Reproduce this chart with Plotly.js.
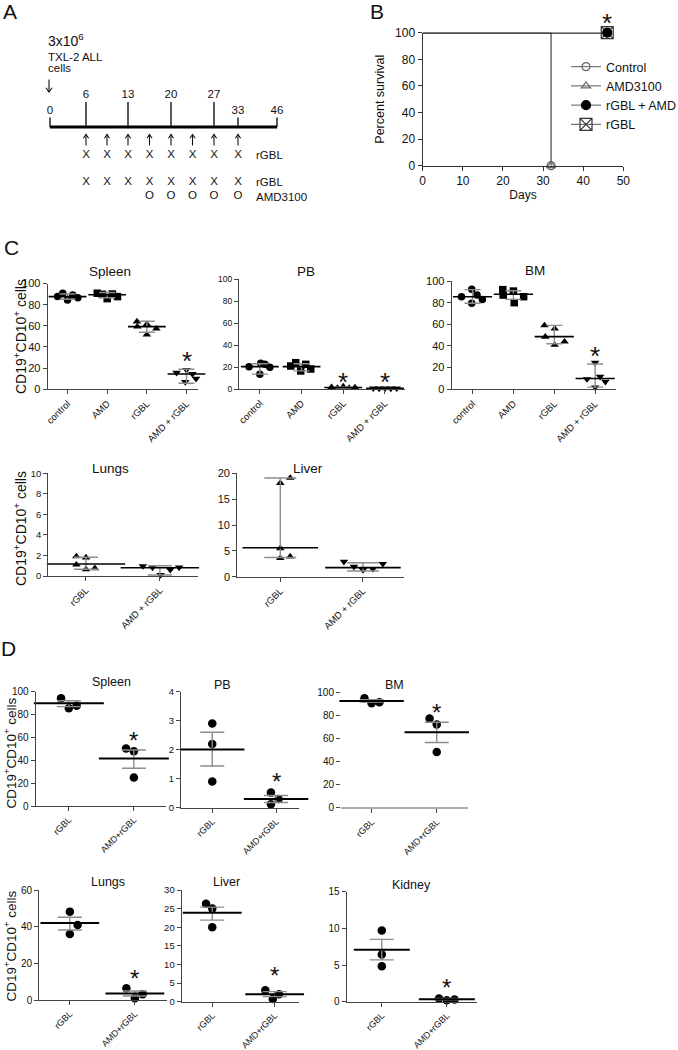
<!DOCTYPE html>
<html><head><meta charset="utf-8">
<script src="https://cdn.plot.ly/plotly-3.0.1.min.js"></script>
<style>html,body{margin:0;padding:0;background:#fff;} #chart{width:678px;height:1050px;}</style>
</head><body><div id="chart"></div>
<script>
// ================= DATA =================
// Panel A: treatment schedule (days)
const timelineDays = [0, 6, 13, 20, 27, 33, 46];
const injectionDay = 0;
const rgblDoseDays = [6, 9.5, 13, 16.5, 20, 23.5, 27, 33];
const amdDoseDays = [16.5, 20, 23.5, 27, 33];

// Panel B: Kaplan-Meier survival
const survLegend = ['Control', 'AMD3100', 'rGBL + AMD', 'rGBL'];
const controlDays = [0, 32, 32];
const controlSurv = [100, 100, 0];
const amd3100Days = [0, 32, 32];
const amd3100Surv = [100, 100, 0];
const comboDays = [0, 46];
const comboSurv = [100, 100];
const rgblDays = [0, 46];
const rgblSurv = [100, 100];

// Panel C: % CD19+CD10+ cells, 5 mice per group (median and range lines)
const cGroups4 = ['control', 'AMD', 'rGBL', 'AMD + rGBL'];
const cGroups2 = ['rGBL', 'AMD + rGBL'];
const cSpleenPts = [[87.6, 90.8, 84.4, 89.1, 86.6], [90.8, 89.8, 85.7, 90.1, 87.6], [64.0, 59.2, 61.5, 57.3, 51.6], [15.7, 18.3, 14.5, 10.0, 6.9]];
const cSpleenMid = [87.6, 89.3, 59.2, 14.5];
const cSpleenLo = [85.1, 86.5, 53.9, 5.7];
const cSpleenHi = [90.1, 91.5, 64.3, 18.9];
const cPbPts = [[20.3, 13.3, 23.3, 22.4, 19.7], [20.9, 23.9, 16.4, 22.4, 18.2], [1.6, 1.0, 2.2, 0.9, 1.4], [0.6, 0.5, 0.6, 0.5, 0.6]];
const cPbMid = [20.3, 20.3, 1.3, 0.6];
const cPbLo = [13.5, 16.5, 0.9, 0.5];
const cPbHi = [23.0, 23.0, 1.8, 0.6];
const cBmPts = [[85.5, 92.3, 79.4, 87.0, 83.0], [92.0, 87.0, 90.7, 80.0, 85.5], [59.0, 56.0, 48.5, 41.0, 44.0], [24.6, 9.5, 11.6, 7.0, 1.8]];
const cBmMid = [85.5, 87.7, 48.6, 10.0];
const cBmLo = [79.5, 83.0, 42.0, 2.0];
const cBmHi = [92.0, 91.0, 59.0, 23.4];
const cLungsPts = [[1.9, 1.8, 1.1, 0.65, 0.75], [0.97, 0.83, 0.1, 0.6, 0.83]];
const cLungsMid = [1.17, 0.8];
const cLungsLo = [0.65, 0.1];
const cLungsHi = [1.83, 1.0];
const cLiverPts = [[18.1, 19.1, 5.5, 3.6, 3.9], [2.9, 1.94, 1.3, 1.5, 2.5]];
const cLiverMid = [5.6, 1.75];
const cLiverLo = [3.7, 1.1];
const cLiverHi = [19.1, 2.7];

// Panel D: % CD19+CD10+ cells, 3 mice per group (mean +/- SEM)
const dGroups = ['rGBL', 'AMD+rGBL'];
const dSpleenPts = [[94.2, 85.5, 87.8], [50.4, 48.0, 25.0]];
const dSpleenMid = [89.9, 41.6];
const dSpleenLo = [86.9, 33.0];
const dSpleenHi = [92.1, 49.0];
const dPbPts = [[2.9, 2.2, 0.9], [0.52, 0.3, 0.12]];
const dPbMid = [2.01, 0.3];
const dPbLo = [1.44, 0.18];
const dPbHi = [2.6, 0.42];
const dBmPts = [[95.2, 90.8, 91.7], [77.4, 72.2, 48.3]];
const dBmMid = [92.8, 65.5];
const dBmLo = [91.8, 56.5];
const dBmHi = [93.9, 74.2];
const dLungsPts = [[48.2, 40.9, 36.0], [6.4, 3.1, 0.9]];
const dLungsMid = [42.0, 3.6];
const dLungsLo = [38.2, 2.2];
const dLungsHi = [45.1, 4.9];
const dLiverPts = [[26.3, 25.0, 20.0], [3.1, 2.0, 0.7]];
const dLiverMid = [23.9, 2.0];
const dLiverLo = [21.9, 1.35];
const dLiverHi = [25.4, 2.7];
const dKidneyPts = [[9.7, 6.45, 4.85], [0.45, 0.2, 0.3]];
const dKidneyMid = [7.1, 0.35];
const dKidneyLo = [5.7, 0.25];
const dKidneyHi = [8.5, 0.45];

// ================= LAYOUT / STYLE =================
const W = 678, H = 1050;
const SANS = 'Liberation Sans, Arial, Helvetica, sans-serif';
const NARROW = 'Liberation Sans Narrow, Arial Narrow, Liberation Sans, Arial, sans-serif';
const xp = v => v / W;
const yp = v => 1 - v / H;

const traces = [];
const annotations = [];
const layout = {
  width: W, height: H,
  margin: {l: 0, r: 0, t: 0, b: 0, pad: 0, autoexpand: false},
  paper_bgcolor: '#fff', plot_bgcolor: 'rgba(0,0,0,0)',
  font: {family: SANS, color: '#111'},
  showlegend: true,
  annotations: annotations
};

let axCount = 0;
function newAxes(box, xa, ya) {
  axCount++;
  const s = axCount === 1 ? '' : String(axCount);
  layout['xaxis' + s] = Object.assign({domain: [xp(box.l), xp(box.r)], anchor: 'y' + s, fixedrange: true, showgrid: false, zeroline: false}, xa);
  layout['yaxis' + s] = Object.assign({domain: [yp(box.b), yp(box.t)], anchor: 'x' + s, fixedrange: true, showgrid: false, zeroline: false}, ya);
  return {x: 'x' + s, y: 'y' + s};
}
function label(x, y, text, size, opts) {
  annotations.push(Object.assign({xref: 'paper', yref: 'paper', x: xp(x), y: yp(y), text: text, showarrow: false,
    font: {family: SANS, size: size, color: '#111'}, xanchor: 'center', yanchor: 'middle'}, opts || {}));
}

// ---------- Panel A: schematic timeline ----------
const timelineAnchorPx = [50, 86, 128, 171, 214, 238, 277]; // schematic placement of timelineDays
const tallTickDays = [6, 13, 20, 27];
function schem(d) {
  for (let i = 1; i < timelineDays.length; i++) {
    if (d <= timelineDays[i]) {
      const a = timelineDays[i - 1], b = timelineDays[i];
      return timelineAnchorPx[i - 1] + (d - a) / (b - a) * (timelineAnchorPx[i] - timelineAnchorPx[i - 1]);
    }
  }
  return timelineAnchorPx[timelineAnchorPx.length - 1];
}
const axA = newAxes({l: 0, r: 340, t: 0, b: 200}, {range: [0, 340], visible: false}, {range: [200, 0], visible: false});
const lineY = 127;
traces.push({type: 'scatter', mode: 'lines', xaxis: axA.x, yaxis: axA.y, showlegend: false, hoverinfo: 'skip',
  x: [schem(timelineDays[0]), schem(timelineDays[timelineDays.length - 1])], y: [lineY, lineY],
  line: {color: '#000', width: 3}});
const tx = [], ty = [];
timelineDays.forEach(d => {
  const top = tallTickDays.includes(d) ? 102 : 117.5;
  tx.push(schem(d), schem(d), null); ty.push(top, lineY, null);
});
traces.push({type: 'scatter', mode: 'lines', xaxis: axA.x, yaxis: axA.y, showlegend: false, hoverinfo: 'skip',
  x: tx, y: ty, line: {color: '#000', width: 1.3}});
// arrows: up arrows for each rGBL dose, down arrow for the cell injection
const arX = [], arY = [];
rgblDoseDays.forEach(d => {
  const x = schem(d);
  arX.push(x, x, null, x - 2.6, x, x + 2.6, null);
  arY.push(145.5, 134.5, null, 138.3, 134.5, 138.3, null);
});
{
  const x = schem(injectionDay) - 1;
  arX.push(x, x, null, x - 3, x, x + 3, null);
  arY.push(79.5, 92, null, 87.8, 92, 87.8, null);
}
traces.push({type: 'scatter', mode: 'lines', xaxis: axA.x, yaxis: axA.y, showlegend: false, hoverinfo: 'skip', cliponaxis: false,
  x: arX, y: arY, line: {color: '#111', width: 1.1}});
traces.push({type: 'scatter', mode: 'text', xaxis: axA.x, yaxis: axA.y, showlegend: false, cliponaxis: false, hoverinfo: 'skip',
  x: timelineDays.map(schem), y: timelineDays.map(d => tallTickDays.includes(d) ? 95.5 : 111.5),
  text: timelineDays.map(String), textfont: {family: SANS, size: 11.5, color: '#111'}});
traces.push({type: 'scatter', mode: 'text', xaxis: axA.x, yaxis: axA.y, showlegend: false, cliponaxis: false, hoverinfo: 'skip',
  x: rgblDoseDays.map(schem), y: rgblDoseDays.map(() => 155), text: rgblDoseDays.map(() => 'X'),
  textfont: {family: SANS, size: 11.5, color: '#111'}});
traces.push({type: 'scatter', mode: 'text', xaxis: axA.x, yaxis: axA.y, showlegend: false, cliponaxis: false, hoverinfo: 'skip',
  x: rgblDoseDays.map(schem), y: rgblDoseDays.map(() => 182), text: rgblDoseDays.map(() => 'X'),
  textfont: {family: SANS, size: 11.5, color: '#111'}});
traces.push({type: 'scatter', mode: 'text', xaxis: axA.x, yaxis: axA.y, showlegend: false, cliponaxis: false, hoverinfo: 'skip',
  x: amdDoseDays.map(schem), y: amdDoseDays.map(() => 196.5), text: amdDoseDays.map(() => 'O'),
  textfont: {family: SANS, size: 11.5, color: '#111'}});
label(46, 40, '3x10<sup>6</sup>', 14, {xanchor: 'left'});
label(46, 57, 'TXL-2 ALL', 11.5, {xanchor: 'left'});
label(46, 68.5, 'cells', 11.5, {xanchor: 'left'});
label(254, 155, 'rGBL', 11.5, {xanchor: 'left'});
label(254, 182, 'rGBL', 11.5, {xanchor: 'left'});
label(254, 196.5, 'AMD3100', 11.5, {xanchor: 'left'});

// Panel letters
label(10, 11, 'A', 21);
label(377, 11, 'B', 21);
label(11, 248, 'C', 21);
label(8, 648, 'D', 21);

// ---------- Panel B: survival ----------
const axB = newAxes({l: 422.7, r: 623.3, t: 32.7, b: 165.7},
  {range: [0, 50], dtick: 10, tick0: 0, showline: true, linecolor: '#333', linewidth: 1.2, ticks: 'outside', ticklen: 4, tickcolor: '#333',
   tickfont: {family: SANS, size: 12, color: '#111'}, title: {text: 'Days', font: {family: SANS, size: 12, color: '#111'}, standoff: 2}},
  {range: [0, 100], dtick: 20, tick0: 0, showline: true, linecolor: '#333', linewidth: 1.2, ticks: 'outside', ticklen: 4, tickcolor: '#333',
   tickfont: {family: SANS, size: 12, color: '#111'}, title: {text: 'Percent survival', font: {family: SANS, size: 12.5, color: '#111'}, standoff: 7}});
const kmSets = [
  {d: controlDays, s: controlSurv, sym: 'circle-open', col: '#666', size: 8, lc: '#777', lw: 1.2},
  {d: amd3100Days, s: amd3100Surv, sym: 'triangle-up-open', col: '#666', size: 8, lc: '#777', lw: 1.2},
  {d: comboDays, s: comboSurv, sym: 'circle', col: '#000', size: 9, lc: '#222', lw: 1.5},
  {d: rgblDays, s: rgblSurv, sym: 'square-x-open', col: '#333', size: 12, lc: '#222', lw: 1.5}
];
kmSets.forEach((k, i) => {
  traces.push({type: 'scatter', mode: 'lines', xaxis: axB.x, yaxis: axB.y, showlegend: false, cliponaxis: false,
    x: k.d, y: k.s, line: {color: k.lc, width: k.lw}, name: survLegend[i], hoverinfo: 'x+y+name'});
});
[3, 2, 0, 1].forEach(i => {
  const k = kmSets[i];
  const n = k.d.length - 1;
  traces.push({type: 'scatter', mode: 'lines+markers', xaxis: axB.x, yaxis: axB.y, cliponaxis: false, legendrank: i + 1,
    name: survLegend[i], x: [k.d[n]], y: [k.s[n]], line: {color: '#777', width: 1.2},
    marker: {symbol: k.sym, size: k.size, color: k.col, line: {color: k.col, width: 1.2}}});
});
annotations.push({xref: axB.x, yref: axB.y, x: comboDays[comboDays.length - 1], y: 100, text: '*', showarrow: false, yshift: 10,
  font: {family: SANS, size: 26, color: '#111'}});
layout.legend = {x: xp(566), y: yp(52), xanchor: 'left', yanchor: 'top', bgcolor: 'rgba(0,0,0,0)',
  font: {family: SANS, size: 12.5, color: '#111'}, itemwidth: 30, tracegroupgap: 0, traceorder: 'normal'};

// ---------- Dot-plot panels ----------
function dotPanel(p) {
  const ax = newAxes(p.box,
    {range: p.xr, tickvals: p.cats.map((_, i) => i), ticktext: p.cats, tickangle: -45,
     showline: true, linecolor: p.xlc || '#444', linewidth: p.xlw || 1.1, ticks: 'outside', ticklen: 4, tickcolor: '#444',
     tickfont: {family: p.xf, size: p.xfs, color: '#111'}},
    {range: p.yr, dtick: p.dtick, tick0: 0, showline: p.yline !== false, linecolor: '#444', linewidth: 1.1,
     ticks: 'outside', ticklen: 4, tickcolor: '#444', tickfont: {family: p.yf, size: p.yfs, color: '#111'}});
  p.pts.forEach((vals, g) => {
    traces.push({type: 'scatter', mode: 'markers', xaxis: ax.x, yaxis: ax.y, showlegend: false, cliponaxis: false,
      name: p.name + ' ' + p.cats[g], x: vals.map((_, k) => g + p.offs[g][k]), y: vals,
      marker: {symbol: p.sym[g], size: p.ms, color: '#000', line: {width: 0}}});
  });
  traces.push({type: 'scatter', mode: 'markers', xaxis: ax.x, yaxis: ax.y, showlegend: false, cliponaxis: false,
    name: p.name, x: p.cats.map((_, i) => i), y: p.mid,
    marker: {symbol: 'line-ew', size: p.len, color: '#000', line: {width: p.lw, color: '#000'}},
    error_y: {type: 'data', symmetric: false, array: p.hi.map((h, i) => h - p.mid[i]), arrayminus: p.mid.map((m, i) => m - p.lo[i]),
      color: '#8c8c8c', thickness: 1.4, width: p.cap}});
  (p.stars || []).forEach(s => annotations.push({xref: ax.x, yref: ax.y, x: s[0], y: s[1], text: '*', showarrow: false,
    yshift: -0.22 * p.starSize, font: {family: SANS, size: p.starSize, color: '#111'}}));
  label(p.title[0], p.title[1], p.name, p.tfs, {font: {family: p.tf, size: p.tfs, color: '#111'}});
}

const cSym4 = ['circle', 'square', 'triangle-up', 'triangle-down'];
const cSym2 = ['triangle-up', 'triangle-down'];
const dSym = ['circle', 'circle'];

dotPanel({name: 'Spleen', box: {l: 47.7, r: 198, t: 283.5, b: 389.3}, xr: [-0.5, 3.29], yr: [0, 100], dtick: 20,
  cats: cGroups4, pts: cSpleenPts, mid: cSpleenMid, lo: cSpleenLo, hi: cSpleenHi, sym: cSym4, ms: 7.5,
  offs: [[-0.25, -0.12, 0, 0.13, 0.26], [-0.25, -0.12, 0, 0.13, 0.26], [-0.25, -0.24, 0, 0.24, 0], [-0.25, 0, 0.15, 0.24, -0.03]],
  len: 27, lw: 1.6, cap: 8, stars: [[3, 32]], starSize: 26,
  xf: SANS, xfs: 9.5, yf: SANS, yfs: 11, title: [110, 271.5], tf: SANS, tfs: 13.5});
dotPanel({name: 'PB', box: {l: 239, r: 405, t: 279, b: 389}, xr: [-0.5, 3.48], yr: [0, 100], dtick: 20,
  cats: cGroups4, pts: cPbPts, mid: cPbMid, lo: cPbLo, hi: cPbHi, sym: cSym4, ms: 7.5,
  offs: [[-0.26, 0, 0.02, 0.12, 0.24], [-0.26, -0.14, -0.02, 0.1, 0.22], [-0.28, -0.14, 0, 0.14, 0.28], [-0.28, -0.14, 0, 0.14, 0.28]],
  len: 27, lw: 1.6, cap: 8, stars: [[2, 11.8], [3, 11.8]], starSize: 26,
  xf: SANS, xfs: 9.5, yf: SANS, yfs: 8.5, title: [306, 271], tf: SANS, tfs: 13.5});
dotPanel({name: 'BM', box: {l: 451.7, r: 616, t: 281, b: 389.3}, xr: [-0.51, 3.51], yr: [0, 100], dtick: 20,
  cats: cGroups4, pts: cBmPts, mid: cBmMid, lo: cBmLo, hi: cBmHi, sym: cSym4, ms: 7.5,
  offs: [[-0.27, -0.02, -0.02, 0.11, 0.24], [-0.26, -0.25, 0, 0.02, 0.25], [-0.24, 0.01, -0.22, 0.01, 0.25], [0, -0.2, 0.12, 0.25, 0]],
  len: 28, lw: 1.6, cap: 8, stars: [[3, 35.6]], starSize: 26,
  xf: SANS, xfs: 9.5, yf: SANS, yfs: 11, title: [535, 270], tf: SANS, tfs: 13.5});
dotPanel({name: 'Lungs', box: {l: 48.3, r: 198.3, t: 473.3, b: 576}, xr: [-0.51, 1.52], yr: [0, 10], dtick: 2,
  cats: cGroups2, pts: cLungsPts, mid: cLungsMid, lo: cLungsLo, hi: cLungsHi, sym: cSym2, ms: 7.5,
  offs: [[-0.13, 0, -0.13, 0, 0.12], [-0.23, -0.1, 0.01, 0.14, 0.26]],
  len: 56, lw: 1.6, cap: 12, stars: [], starSize: 26,
  xf: SANS, xfs: 9.5, yf: SANS, yfs: 9.5, title: [110, 468.3], tf: SANS, tfs: 13.5});
dotPanel({name: 'Liver', box: {l: 237.3, r: 404.3, t: 473.3, b: 576.7}, xr: [-0.52, 1.5], yr: [0, 20], dtick: 5,
  cats: cGroups2, pts: cLiverPts, mid: cLiverMid, lo: cLiverLo, hi: cLiverHi, sym: cSym2, ms: 7.5,
  offs: [[0, 0.12, 0, 0, 0.12], [-0.23, -0.11, 0, 0.12, 0.24]],
  len: 54, lw: 1.6, cap: 16, stars: [], starSize: 26,
  xf: SANS, xfs: 9.5, yf: SANS, yfs: 11, title: [308, 468], tf: SANS, tfs: 13.5});

dotPanel({name: 'Spleen', box: {l: 35.7, r: 165.7, t: 691.7, b: 806}, xr: [-0.51, 1.49], yr: [0, 100], dtick: 20,
  cats: dGroups, pts: dSpleenPts, mid: dSpleenMid, lo: dSpleenLo, hi: dSpleenHi, sym: dSym, ms: 8.5,
  offs: [[-0.12, 0, 0.12], [-0.12, 0, 0]], len: 50, lw: 2, cap: 12, stars: [[1, 62]], starSize: 24,
  xf: NARROW, xfs: 9, yf: NARROW, yfs: 10, title: [111, 681.7], tf: NARROW, tfs: 12.5});
dotPanel({name: 'PB', box: {l: 181, r: 299, t: 691.7, b: 807.7}, xr: [-0.49, 1.36], yr: [0, 4], dtick: 1,
  cats: dGroups, pts: dPbPts, mid: dPbMid, lo: dPbLo, hi: dPbHi, sym: dSym, ms: 8.5,
  offs: [[0, 0, 0], [-0.08, 0.04, -0.08]], len: 46, lw: 2, cap: 12, stars: [[1, 1.1]], starSize: 24,
  xf: NARROW, xfs: 9, yf: NARROW, yfs: 9.5, title: [222, 685], tf: NARROW, tfs: 12.5});
dotPanel({name: 'BM', box: {l: 341, r: 468, t: 692.7, b: 807.3}, xr: [-0.47, 1.48], yr: [0, 100], dtick: 20,
  cats: dGroups, pts: dBmPts, mid: dBmMid, lo: dBmLo, hi: dBmHi, sym: dSym, ms: 8.5, yline: false, xlc: '#aaa', xlw: 2,
  offs: [[-0.11, 0, 0.12], [-0.11, 0, 0]], len: 46, lw: 2, cap: 12, stars: [[1, 87]], starSize: 24,
  xf: NARROW, xfs: 9, yf: NARROW, yfs: 10, title: [394, 684.5], tf: NARROW, tfs: 12.5});
dotPanel({name: 'Lungs', box: {l: 39.3, r: 166.7, t: 890, b: 1000}, xr: [-0.47, 1.49], yr: [0, 60], dtick: 20,
  cats: dGroups, pts: dLungsPts, mid: dLungsMid, lo: dLungsLo, hi: dLungsHi, sym: dSym, ms: 8.5,
  offs: [[0, 0.12, 0], [-0.13, 0.12, 0]], len: 42, lw: 2, cap: 12, stars: [[1, 14.5]], starSize: 24,
  xf: NARROW, xfs: 9, yf: NARROW, yfs: 10, title: [108, 881.7], tf: NARROW, tfs: 12.5});
dotPanel({name: 'Liver', box: {l: 181.7, r: 299, t: 890, b: 1001.7}, xr: [-0.49, 1.39], yr: [0, 30], dtick: 5,
  cats: dGroups, pts: dLiverPts, mid: dLiverMid, lo: dLiverLo, hi: dLiverHi, sym: dSym, ms: 8.5,
  offs: [[-0.1, 0, 0], [-0.15, 0.07, -0.03]], len: 42, lw: 2, cap: 12, stars: [[1, 8.5]], starSize: 24,
  xf: NARROW, xfs: 9, yf: NARROW, yfs: 9.5, title: [226.7, 881.7], tf: NARROW, tfs: 12.5});
dotPanel({name: 'Kidney', box: {l: 346.7, r: 476.7, t: 891.7, b: 1001.7}, xr: [-0.54, 1.46], yr: [0, 15], dtick: 5,
  cats: dGroups, pts: dKidneyPts, mid: dKidneyMid, lo: dKidneyLo, hi: dKidneyHi, sym: dSym, ms: 8.5,
  offs: [[0, 0, 0], [-0.12, 0, 0.12]], len: 40, lw: 2, cap: 12, stars: [[1, 2.7]], starSize: 24,
  xf: NARROW, xfs: 9, yf: NARROW, yfs: 10, title: [411, 885], tf: NARROW, tfs: 12.5});

// Shared y-axis titles
const yTitle = 'CD19<sup>+</sup>CD10<sup>+</sup> cells';
label(20, 337, yTitle, 14, {textangle: -90});
label(20, 529, yTitle, 14, {textangle: -90});
label(10.5, 753, yTitle, 13.5, {textangle: -90});
label(10.5, 946, yTitle, 13.5, {textangle: -90});

Plotly.newPlot('chart', traces, layout, {staticPlot: true, displayModeBar: false});
</script></body></html>
